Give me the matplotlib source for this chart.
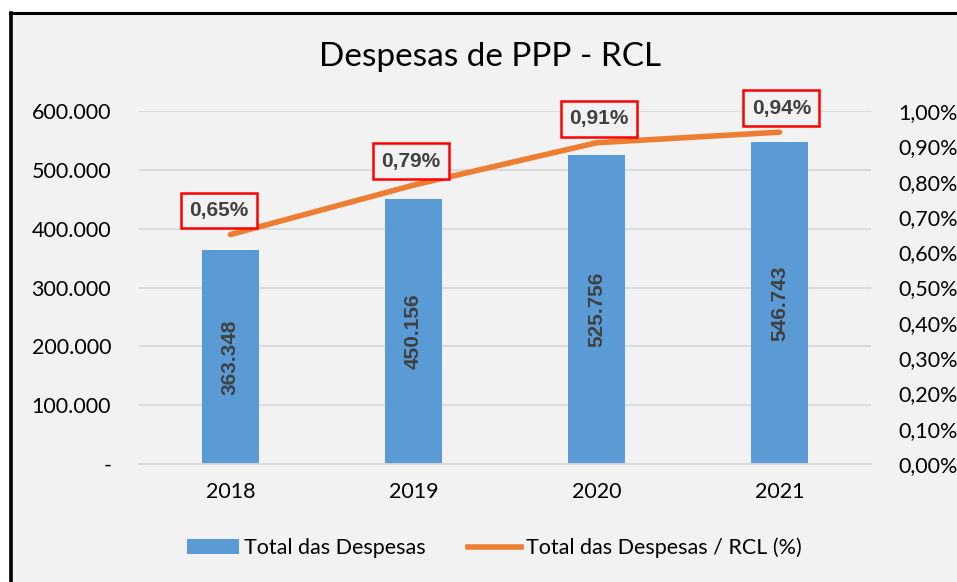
import numpy as np
import matplotlib
matplotlib.use("Agg")
import matplotlib.pyplot as plt
from matplotlib.lines import Line2D
from matplotlib.patches import Patch

# ------------------------------------------------------------
years = ["2018", "2019", "2020", "2021"]
despesas = [363348, 450156, 525756, 546743]
pct_rcl = [0.65, 0.79, 0.91, 0.94]          # em %
left_ticks = [0, 100000, 200000, 300000, 400000, 500000, 600000]
right_ticks = [0.0, 0.1, 0.2, 0.3, 0.4, 0.5, 0.6, 0.7, 0.8, 0.9, 1.0]

BLUE = "#5B9BD5"
ORANGE = "#ED7D31"
BG = "#F2F2F2"
TXT = "#404040"
plt.rcParams["font.family"] = ["Lato", "DejaVu Sans"]
BOLD_FAM = ["Liberation Sans", "DejaVu Sans"]


def fmt_thousands(v):
    return "-" if v == 0 else f"{v:,.0f}".replace(",", ".")


def fmt_pct(v):
    return f"{v:.2f}%".replace(".", ",")


W, H = 957, 582
fig = plt.figure(figsize=(W / 100, H / 100), dpi=100)
fig.patch.set_facecolor("white")

# chart frame (only top and left edges are visible in the crop)
fig.patches.append(plt.Rectangle((10 / W, 0), 1, 1 - 13 / H, transform=fig.transFigure,
                                 facecolor=BG, edgecolor="none", zorder=-10))
fig.add_artist(Line2D([10 / W, 1], [1 - 13 / H, 1 - 13 / H], color="black", lw=2.2,
                      transform=fig.transFigure))
fig.add_artist(Line2D([10.5 / W, 10.5 / W], [0, 1 - 13 / H], color="black", lw=2.6,
                      transform=fig.transFigure))

ax = fig.add_axes([139 / W, 1 - 464 / H, 732 / W, 353 / H])
ax.set_facecolor("none")
x = np.arange(len(years))
ax.bar(x, despesas, width=0.31, color=BLUE, zorder=2)
ax.set_xlim(-0.5, len(years) - 0.5)
ax.set_ylim(0, 600000)
ax.set_yticks(left_ticks)
ax.set_yticklabels([fmt_thousands(v) for v in left_ticks])
ax.set_xticks(x)
ax.set_xticklabels(years)
ax.grid(axis="y", color="#D9D9D9", lw=1.3, zorder=0)
for s in ["top", "right", "left"]:
    ax.spines[s].set_visible(False)
ax.spines["bottom"].set_color("#D9D9D9")
ax.spines["bottom"].set_linewidth(1.3)
ax.tick_params(axis="both", length=0, labelsize=15.5, colors="black")
ax.tick_params(axis="y", pad=20)
ax.tick_params(axis="x", pad=13)

for xi, v in zip(x, despesas):
    ax.text(xi, v / 2, fmt_thousands(v), rotation=90, ha="center", va="center",
            fontsize=15, fontweight="bold", family=BOLD_FAM, color=TXT, zorder=3)

ax2 = ax.twinx()
ax2.plot(x, pct_rcl, color=ORANGE, lw=4, solid_capstyle="round", zorder=3)
ax2.set_ylim(0, 1.0)
ax2.set_yticks(right_ticks)
ax2.set_yticklabels([fmt_pct(v) for v in right_ticks])
for s in ax2.spines.values():
    s.set_visible(False)
ax2.tick_params(axis="y", length=0, labelsize=15.5, pad=20)

offsets = [-0.065, -0.015, 0.015, 0.01]
for xi, v, dx in zip(x, pct_rcl, offsets):
    ax2.annotate(fmt_pct(v), (xi + dx, v), xytext=(0, 10.5), textcoords="offset points",
                 ha="center", va="bottom", fontsize=15, fontweight="bold",
                 family=BOLD_FAM, color=TXT,
                 bbox=dict(boxstyle="square,pad=0.4", facecolor=BG,
                           edgecolor="#FF0000", lw=1.8), zorder=4)

fig.text(490 / W, 1 - 57 / H, "Despesas de PPP - RCL", ha="center", va="center",
         fontsize=24, color="black")

handles = [Patch(facecolor=BLUE, edgecolor="none"),
           Line2D([0], [0], color=ORANGE, lw=4)]
fig.legend(handles, ["Total das Despesas", "Total das Despesas / RCL (%)"],
           loc="center", bbox_to_anchor=(494 / W, 1 - 548 / H), ncol=2, frameon=False,
           fontsize=15.5, handlelength=2.45, handletextpad=0.2, columnspacing=2.0)

fig.savefig("out.png", dpi=100, facecolor=fig.get_facecolor())
